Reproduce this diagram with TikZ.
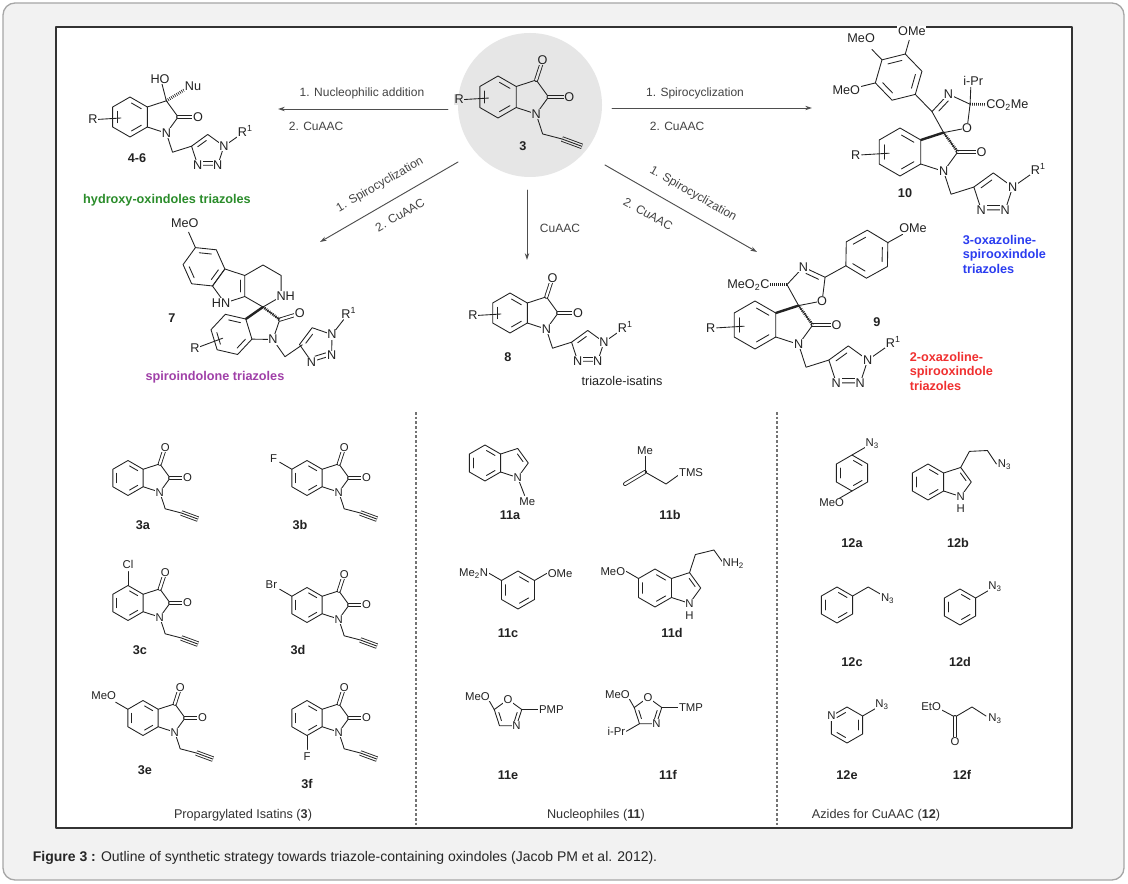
\documentclass[tikz,border=0pt]{standalone}
\usepackage{fontspec}
\setmainfont{Liberation Sans}
\usetikzlibrary{calc,arrows.meta}
\definecolor{bgc}{HTML}{FFFFFF}
\definecolor{circ}{HTML}{E6E6E6}
\definecolor{ink}{HTML}{222222}
\definecolor{grn}{HTML}{2A8C2A}
\definecolor{pur}{HTML}{A040A8}
\definecolor{blu}{HTML}{2B3DF0}
\definecolor{rd}{HTML}{F03030}
\tikzset{
 atom/.style={fill=bgc,inner sep=0.5pt,text=ink,font=\fontsize{9.5}{9.5}\selectfont},
 num/.style={font=\bfseries\fontsize{9.5}{9.5}\selectfont,text=ink},
 rx/.style={font=\fontsize{9}{9}\selectfont,text=ink!85},
 cls/.style={font=\bfseries\fontsize{9.5}{11}\selectfont,align=left},
 inner/.style={shorten <=1.3pt,shorten >=1.3pt},
 dbl/.style={double=bgc,double distance=1.7pt},
 trip/.style={double=bgc,double distance=2.8pt,line cap=butt},
 hsh/.style={line width=2.2pt,dash pattern=on 0.5pt off 1pt,line cap=butt},
 wdg/.style={line width=1.8pt},
 arr/.style={draw=ink!80,line width=0.7pt,-{Stealth[length=5pt,width=3.2pt]}},
 small/.style={atom/.append style={font=\fontsize{8.5}{8.5}\selectfont}}
}
\newcommand\at[2]{\node[atom] at (#1) {#2};}
\newcommand\hexg[3]{%
 \draw ($(#1)+(#2:1)$) \foreach \k in {1,...,5}{ -- ($(#1)+(#2+60*\k:1)$)} -- cycle;
 \foreach \k in {#3}{\draw[inner] ($(#1)+(#2+60*\k:0.74)$) -- ($(#1)+(#2+60*\k+60:0.74)$);}}
\newcommand\oxcore{\hexg{0,0}{90}{1,3,5}\draw (0.866,0.5) -- (1.817,0.809) -- (2.405,0) -- (1.817,-0.809) -- (0.866,-0.5); \draw[dbl] (2.405,0) -- (3.4,0);}
\newcommand\indcore{\hexg{0,0}{90}{1,3,5}\draw (0.866,0.5) -- (1.817,0.809) -- (2.405,0) -- (1.817,-0.809) -- (0.866,-0.5); \draw[inner] ($(1.554,0)!0.72!(1.817,0.809)$) -- ($(1.554,0)!0.72!(2.405,0)$);}
\newcommand\Rsub{\draw (-1.6,-0.12) -- (-0.45,-0.05); \at{-1.85,-0.12}{R}}
\newcommand\propN{\draw (1.817,-0.809) -- (2.126,-1.76) -- (3.05,-2.0); \draw[trip] (3.05,-2.0) -- (4.0,-2.35); \draw[line cap=butt] (3.05,-2.0) -- (4.0,-2.35);}
\newcommand\triaz[1]{\coordinate (tc) at ($(#1)+(0.808,-0.263)$);
 \draw ($(tc)+(162:0.851)$) -- ($(tc)+(90:0.851)$) -- ($(tc)+(18:0.851)$) -- ($(tc)+(-54:0.851)$) -- ($(tc)+(-126:0.851)$) -- cycle;
 \draw[inner] ($(tc)+(162:0.6)$) -- ($(tc)+(90:0.6)$);
 \draw[inner] ($(tc)+(-54:0.6)$) -- ($(tc)+(-126:0.6)$);
 \draw ($(tc)+(18:0.851)$) -- ($(tc)+(18:0.851)+(35:0.9)$);
 \at{$(tc)+(18:0.851)$}{N}\at{$(tc)+(-54:0.851)$}{N}\at{$(tc)+(-126:0.851)$}{N}
 \at{$(tc)+(18:0.851)+(35:1.3)$}{R\textsuperscript{1}}}
\newcommand\triN{\draw (1.817,-0.809) -- (2.126,-1.76) -- (3.08,-1.46); \triaz{3.08,-1.46}}
\newcommand\oxlab{\at{3.4,0}{O}\at{1.817,-0.809}{N}}
\newcommand\isab[3]{\begin{scope}[shift={(#1,#2)},scale=17.5,yscale=-1,small]
 \oxcore \draw[dbl] (1.817,0.809) -- (2.126,1.76); \propN #3
 \oxlab\at{2.126,1.76}{O}\end{scope}}
\begin{document}
\begin{tikzpicture}[x=0.75pt,y=-0.75pt,line width=0.65pt,draw=ink,line cap=round,line join=round]
\useasboundingbox (0,0) rectangle (1128,884);
\draw[rounded corners=9pt,fill=black!5,draw=black!35,line width=1pt] (3,3) rectangle (1124,880);
\draw[fill=white,draw=black!80,line width=2.2pt] (56,27) rectangle (1072,828);
\node[anchor=west,font=\fontsize{10.5}{12}\selectfont,text=black!85] (cap) at (28,858) {\textbf{Figure 3 :} Outline of synthetic strategy towards triazole-containing oxindoles (Jacob PM et al. 2012).};
% centre
\fill[circ] (530,105) circle[radius=72];
\begin{scope}[shift={(498,97)},scale=21,yscale=-1]\colorlet{bgc}{circ}
 \oxcore \draw[dbl] (1.817,0.809) -- (2.126,1.76); \propN \Rsub
 \oxlab\at{2.126,1.76}{O}
\end{scope}
\node[num] (n3) at (523,146) {3};
% arrows
\coordinate (a1s) at (448,109); \coordinate (a1e) at (278,109);
\draw[arr] (a1s) -- (a1e);
\node[rx] (a1t) at (362,93) {1. Nucleophilic addition};
\node[rx,anchor=west] (a1b) at (284,126) {2. CuAAC};
\coordinate (a2s) at (612,108); \coordinate (a2e) at (812,108);
\draw[arr] (a2s) -- (a2e);
\node[rx] (a2t) at (695,93) {1. Spirocyclization};
\node[rx,anchor=west] (a2b) at (645,126) {2. CuAAC};
\coordinate (a3s) at (527,190); \coordinate (a3e) at (527,260);
\draw[arr] (a3s) -- (a3e);
\node[rx] (a3t) at (560,228) {CuAAC};
\coordinate (a4s) at (605,165); \coordinate (a4e) at (757,252);
\draw[arr] (a4s) -- (a4e);
\node[rx,rotate=-29.8] (a4t) at (693,194) {1. Spirocyclization};
\node[rx,rotate=-29.8] (a4b) at (648,214) {2. CuAAC};
\coordinate (a5s) at (458,162); \coordinate (a5e) at (320,242);
\draw[arr] (a5s) -- (a5e);
\node[rx,rotate=30] (a5t) at (380,185) {1. Spirocyclization};
\node[rx,rotate=30] (a5b) at (400,215) {2. CuAAC};
% 4-6
\begin{scope}[shift={(130,117)},scale=20,yscale=-1]
 \oxcore \draw (1.817,0.809) -- (1.6,1.65); \draw[hsh] (1.817,0.809) -- (2.7,1.35); \triN \Rsub
 \oxlab\at{1.5,1.9}{HO}\at{3.15,1.55}{Nu}
\end{scope}
\node[num] (n46) at (137,158) {4-6};
\node[cls,text=grn] (c46) at (167,200) {hydroxy-oxindoles triazoles};
% 7 : carboline (C1 at spiro centre)
\begin{scope}[shift={(263,307)},scale=21,yscale=-1]
 \draw (0,0) -- (-0.867,0.5) -- (-0.867,1.5) -- (0,2.0) -- (0.863,1.5) -- (0.863,0.5) -- (0,0);
 \draw (-0.867,0.5) -- (-1.817,0.19) -- (-2.405,1.0) -- (-1.817,1.81) -- (-0.867,1.5);
 \draw[inner] ($(-1.555,1.0)!0.72!(-0.867,0.5)$) -- ($(-1.555,1.0)!0.72!(-0.867,1.5)$);
 \hexg{-2.811,1.915}{-6}{1,3,5}
 \draw ($(-2.811,1.915)+(114:1)$) -- ($(-2.811,1.915)+(114:1.8)$);
 \at{-2.0,0.19}{HN}\at{1.08,0.5}{NH}\at{$(-2.811,1.915)+(114:2.25)$}{MeO}
\end{scope}
% 7 : oxindole, rotated about C3
\begin{scope}[shift={(263,307)},scale=21,yscale=-1,rotate=-17,shift={(-1.817,-0.809)}]
 \oxcore \draw[wdg,line cap=butt] (0.866,0.5) -- (1.817,0.809); \draw[hsh] (1.817,0.809) -- (2.405,0);
 \triN \Rsub
 \oxlab
\end{scope}
\node[num] (n7) at (172,318) {7};
\node[cls,text=pur] (c7) at (215,377) {spiroindolone triazoles};
% 8
\begin{scope}[shift={(510,313)},scale=20,yscale=-1]
 \oxcore \draw[dbl] (1.817,0.809) -- (2.126,1.76); \triN \Rsub
 \oxlab\at{2.126,1.76}{O}
\end{scope}
\node[num] (n8) at (508,357) {8};
\node[font=\fontsize{9.5}{9.5}\selectfont,text=ink] (c8) at (622,381) {triazole-isatins};
% 9
\begin{scope}[shift={(755,325)},scale=24,yscale=-1]
 \oxcore \draw[wdg,line cap=butt] (0.866,0.5) -- (1.817,0.809); \draw[hsh] (1.817,0.809) -- (2.405,0);
 \draw (1.817,0.809) -- (2.797,1.0) -- (2.92,1.99) -- (2.014,2.413) -- (1.332,1.683) -- (1.817,0.809);
 \draw[inner] ($(2.176,1.579)!0.72!(2.92,1.99)$) -- ($(2.176,1.579)!0.72!(2.014,2.413)$);
 \draw (2.92,1.99) -- (3.79,2.47); \hexg{4.66,2.95}{209}{0,2,4}
 \draw ($(4.66,2.95)+(29:1)$) -- ($(4.66,2.95)+(29:1.7)$);
 \draw[hsh] (1.332,1.683) -- (0.55,1.683);
 \triN \Rsub
 \oxlab\at{2.797,1.0}{O}\at{2.014,2.413}{N}\at{$(4.66,2.95)+(29:2.2)$}{OMe}
 \node[atom,anchor=east] at (0.65,1.683) {MeO\textsubscript{2}C};
\end{scope}
\node[num] (n9) at (877,322) {9};
\node[cls,text=rd,anchor=north west] (c9) at (905,347) {2-oxazoline-\\spirooxindole\\triazoles};
% 10
\begin{scope}[shift={(900,152)},scale=24,yscale=-1]
 \oxcore \draw[wdg,line cap=butt] (0.866,0.5) -- (1.817,0.809); \draw[hsh] (1.817,0.809) -- (2.405,0);
 \draw (1.817,0.809) -- (2.797,1.0) -- (2.92,1.99) -- (2.014,2.413) -- (1.332,1.683) -- (1.817,0.809);
 \draw[inner] ($(2.176,1.579)!0.72!(2.014,2.413)$) -- ($(2.176,1.579)!0.72!(1.332,1.683)$);
 \draw (2.92,1.99) -- (2.95,2.7); \draw[hsh] (2.92,1.99) -- (3.65,1.97);
 \draw (1.332,1.683) -- (0.637,2.40); \hexg{-0.057,3.12}{314}{0,2,4}
 \draw ($(-0.057,3.12)+(74:1)$) -- ($(-0.057,3.12)+(74:1.6)$);
 \draw ($(-0.057,3.12)+(134:1)$) -- ($(-0.057,3.12)+(134:1.6)$);
 \draw ($(-0.057,3.12)+(194:1)$) -- ($(-0.057,3.12)+(194:1.6)$);
 \triN \Rsub
 \oxlab\at{2.797,1.0}{O}\at{2.014,2.413}{N}\at{3.05,2.95}{i-Pr}
 \node[atom,anchor=west] at (3.55,1.97) {CO\textsubscript{2}Me};
 \at{$(-0.057,3.12)+(74:2.0)$}{OMe}\at{$(-0.057,3.12)+(134:2.25)$}{MeO}\at{$(-0.057,3.12)+(194:2.25)$}{MeO}
\end{scope}
\node[num] (n10) at (905,193) {10};
\node[cls,text=blu,anchor=north west] (c10) at (958,230) {3-oxazoline-\\spirooxindole\\triazoles};
% dashed separators
\coordinate (d1a) at (416,412); \coordinate (d1b) at (416,825);
\coordinate (d2a) at (777,412); \coordinate (d2b) at (777,825);
\draw[black!55,line width=0.8pt,dash pattern=on 2pt off 1.5pt,line cap=butt] (d1a) -- (d1b) (d2a) -- (d2b);
% isatins 3a-3f
\isab{128}{478}{}
\isab{307}{478}{\draw (150:1) -- (150:1.8); \at{150:2.2}{F}}
\isab{128}{603}{\draw (90:1) -- (90:1.8); \at{90:2.2}{Cl}}
\isab{307}{605}{\draw (150:1) -- (150:1.8); \at{150:2.35}{Br}}
\isab{143}{718}{\draw (150:1) -- (150:1.8); \at{150:2.6}{MeO}}
\isab{307}{718}{\draw (270:1) -- (270:1.8); \at{270:2.2}{F}}
\node[num] (n3a) at (143,525) {3a};
\node[num] (n3b) at (300,525) {3b};
\node[num] (n3c) at (140,650) {3c};
\node[num] (n3d) at (298,650) {3d};
\node[num] (n3e) at (145,770) {3e};
\node[num] (n3f) at (307,784) {3f};
% nucleophiles
\begin{scope}[shift={(485,463)},scale=18,yscale=-1,small]
 \indcore \draw (1.817,-0.809) -- (2.2,-1.8);
 \at{1.817,-0.809}{N}\at{2.35,-2.15}{Me}
\end{scope}
\node[num] (n11a) at (510,515) {11a};
\begin{scope}[small]
 \draw[dbl] (625,484) -- (645,472); \draw (645,472) -- (645,456); \draw (645,472) -- (666,484) -- (680,474);
 \at{645,451}{Me}\node[atom,anchor=west] at (678,473) {TMS};
\end{scope}
\node[num] (n11b) at (670,515) {11b};
\begin{scope}[shift={(518,590)},scale=19,yscale=-1,small]
 \hexg{0,0}{90}{1,3,5}
 \draw (150:1) -- ($(150:1)+(150:0.8)$); \draw (30:1) -- ($(30:1)+(30:0.8)$);
 \node[atom,anchor=east] at ($(150:1)+(150:0.75)$) {Me\textsubscript{2}N};
 \node[atom,anchor=west] at ($(30:1)+(30:0.75)$) {OMe};
\end{scope}
\node[num] (n11c) at (508,633) {11c};
\begin{scope}[shift={(655,588)},scale=19,yscale=-1,small]
 \indcore
 \draw (150:1) -- ($(150:1)+(150:0.8)$);
 \draw (1.817,0.809) -- (2.126,1.76) -- (3.1,2.0) -- (3.6,1.3);
 \node[atom,anchor=east] at ($(150:1)+(150:0.75)$) {MeO};
 \node[atom,anchor=west] at (3.5,1.3) {NH\textsubscript{2}};
 \at{1.817,-0.809}{N}\at{1.817,-1.45}{H}
\end{scope}
\node[num] (n11d) at (672,633) {11d};
\begin{scope}[shift={(508,714)},scale=17,yscale=-1,small]
 \draw (90:0.851) -- (18:0.851) -- (-54:0.851) -- (-126:0.851) -- (162:0.851) -- cycle;
 \draw[inner] (162:0.6) -- (-126:0.6); \draw[inner] (18:0.6) -- (-54:0.6);
 \draw (162:0.851) -- ($(162:0.851)+(120:0.9)$); \draw (18:0.851) -- ($(18:0.851)+(0:1)$);
 \at{90:0.851}{O}\at{-54:0.851}{N}
 \node[atom,anchor=east] at ($(162:0.851)+(120:0.9)+(0.25,0)$) {MeO};
 \node[atom,anchor=west] at ($(18:0.851)+(0:0.95)$) {PMP};
\end{scope}
\node[num] (n11e) at (508,775) {11e};
\begin{scope}[shift={(648,712)},scale=17,yscale=-1,small]
 \draw (90:0.851) -- (18:0.851) -- (-54:0.851) -- (-126:0.851) -- (162:0.851) -- cycle;
 \draw[inner] (162:0.6) -- (-126:0.6); \draw[inner] (18:0.6) -- (-54:0.6);
 \draw (162:0.851) -- ($(162:0.851)+(120:0.9)$); \draw (18:0.851) -- ($(18:0.851)+(0:1)$);
 \draw (-126:0.851) -- ($(-126:0.851)+(-150:0.9)$);
 \at{90:0.851}{O}\at{-54:0.851}{N}
 \node[atom,anchor=east] at ($(162:0.851)+(120:0.9)+(0.25,0)$) {MeO};
 \node[atom,anchor=west] at ($(18:0.851)+(0:0.95)$) {TMP};
 \node[atom,anchor=east] at ($(-126:0.851)+(-150:0.9)$) {i-Pr};
\end{scope}
\node[num] (n11f) at (668,775) {11f};
% azides
\begin{scope}[shift={(852,473)},scale=18,yscale=-1,small]
 \hexg{0,0}{90}{1,3,5}
 \draw (90:1) -- ($(90:1)+(30:0.9)$); \draw (270:1) -- ($(270:1)+(210:0.9)$);
 \at{$(90:1)+(30:1.3)$}{N\textsubscript{3}}\at{$(270:1)+(210:1.3)$}{MeO}
\end{scope}
\node[num] (n12a) at (852,543) {12a};
\begin{scope}[shift={(928,482)},scale=18,yscale=-1,small]
 \indcore
 \draw (1.817,0.809) -- (2.3,1.7) -- (3.3,1.75) -- (3.8,1.0);
 \at{1.817,-0.809}{N}\at{1.817,-1.45}{H}\at{4.25,0.95}{N\textsubscript{3}}
\end{scope}
\node[num] (n12b) at (958,543) {12b};
\begin{scope}[shift={(837,605)},scale=18,yscale=-1,small]
 \hexg{0,0}{90}{1,3,5}
 \draw (30:1) -- ($(30:1)+(30:1)$) -- ($(30:1)+(30:1)+(-30:0.8)$);
 \at{$(30:1)+(30:1)+(-30:1.25)$}{N\textsubscript{3}}
\end{scope}
\node[num] (n12c) at (852,662) {12c};
\begin{scope}[shift={(960,607)},scale=18,yscale=-1,small]
 \hexg{0,0}{90}{1,3,5}
 \draw (30:1) -- ($(30:1)+(30:0.8)$);
 \at{$(30:1)+(30:1.25)$}{N\textsubscript{3}}
\end{scope}
\node[num] (n12d) at (960,662) {12d};
\begin{scope}[shift={(847,725)},scale=18,yscale=-1,small]
 \hexg{0,0}{90}{0,2,4}
 \draw (30:1) -- ($(30:1)+(30:0.8)$);
 \at{150:1}{N}\at{$(30:1)+(30:1.25)$}{N\textsubscript{3}}
\end{scope}
\node[num] (n12e) at (847,775) {12e};
\begin{scope}[small]
 \draw (938,708) -- (955,717) -- (972,707) -- (986,716);
 \draw[dbl] (955,717) -- (955,740);
 \at{955,742}{O}\node[atom,anchor=east] at (942,707) {EtO};\at{995,719}{N\textsubscript{3}}
\end{scope}
\node[num] (n12f) at (962,775) {12f};
% panel titles
\node[font=\fontsize{9.5}{9.5}\selectfont,text=black!80] (t1) at (243,815) {Propargylated Isatins (\textbf{3})};
\node[font=\fontsize{9.5}{9.5}\selectfont,text=black!80] (t2) at (596,815) {Nucleophiles (\textbf{11})};
\node[font=\fontsize{9.5}{9.5}\selectfont,text=black!80] (t3) at (876,815) {Azides for CuAAC (\textbf{12})};
\end{tikzpicture}
\end{document}
